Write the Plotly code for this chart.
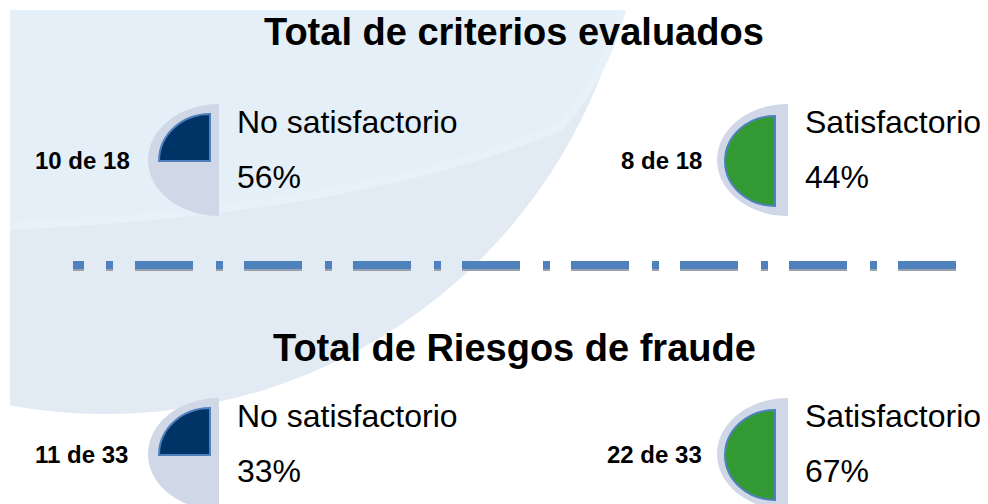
import plotly.graph_objects as go

# ---------------- data ----------------
section_titles = ["Total de criterios evaluados", "Total de Riesgos de fraude"]
status_labels = ["No satisfactorio", "Satisfactorio"]
criterios_counts = [10, 8]
criterios_total = 18
riesgos_counts = [11, 22]
riesgos_total = 33

sections = [
    (section_titles[0], criterios_counts, criterios_total),
    (section_titles[1], riesgos_counts, riesgos_total),
]

# ---------------- layout (screen-pixel space; page body has an 8px margin) ----------------
OFF = 8
W, H = 988, 504
row_y = [160, 454]          # gauge centre rows
title_y = [32, 348]
col_gauge_x = [219, 788]    # flat edge of grey half-ellipse
label_x = [235, 803]
count_x = [33, 704]
count_anchor = ["left", "right"]
K = 0.5523

FONT = "Liberation Sans, Arial"

GREY = "#d0d8e8"
DARK = "#003366"
GREEN = "#339933"
EDGE = "#4f81bd"


def half_left(cx, cy, rx, ry):
    return (f"M {cx},{cy-ry} C {cx-K*rx},{cy-ry} {cx-rx},{cy-K*ry} {cx-rx},{cy} "
            f"C {cx-rx},{cy+K*ry} {cx-K*rx},{cy+ry} {cx},{cy+ry} Z")


def quarter_ul(cx, cy, rx, ry):
    return (f"M {cx},{cy} L {cx},{cy-ry} "
            f"C {cx-K*rx},{cy-ry} {cx-rx},{cy-K*ry} {cx-rx},{cy} Z")


shapes = []
# background decoration
shapes.append(dict(type="circle", xref="x", yref="y", x0=-425, x1=637, y0=-648, y1=414,
                   fillcolor="#e2eaf4", line=dict(width=0), layer="below"))
shapes.append(dict(type="path", xref="x", yref="y",
                   path="M 10,10 L 622,10 Q 604,75 560,125 Q 360,208 10,224 Z",
                   fillcolor="#e4eff8", line=dict(width=0), layer="below"))
shapes.append(dict(type="path", xref="x", yref="y",
                   path="M 10,226 Q 360,210 560,127 Q 604,77 622,10",
                   line=dict(color="#e7f1f9", width=8), layer="below"))
shapes.append(dict(type="rect", xref="x", yref="y", x0=0, x1=10, y0=0, y1=H,
                   fillcolor="white", line=dict(width=0), layer="below"))
shapes.append(dict(type="rect", xref="x", yref="y", x0=0, x1=W, y0=0, y1=10,
                   fillcolor="white", line=dict(width=0), layer="below"))

# separator dash-dot line
dash = ["11px", "22px", "7px", "22px"] + ["58px", "23px", "7px", "21px"] * 9
dash_str = ",".join(dash)
shapes.append(dict(type="line", xref="x", yref="y", x0=73, x1=960, y0=267, y1=267,
                   line=dict(color="#9aa3ad", width=8, dash=dash_str), layer="below"))
shapes.append(dict(type="line", xref="x", yref="y", x0=73, x1=960, y0=265, y1=265,
                   line=dict(color="#4f81bd", width=8, dash=dash_str), layer="below"))

annotations = []
for r, (title, counts, total) in enumerate(sections):
    cy = row_y[r]
    annotations.append(dict(x=514, y=title_y[r], xref="x", yref="y", text=f"<b>{title}</b>",
                            showarrow=False, xanchor="center", yanchor="middle",
                            font=dict(family=FONT, size=38, color="black")))
    for c, (status, count) in enumerate(zip(status_labels, counts)):
        gx = col_gauge_x[c]
        # grey half-ellipse
        shapes.append(dict(type="path", xref="x", yref="y", path=half_left(gx, cy, 71, 56),
                           fillcolor=GREY, line=dict(width=0)))
        if c == 0:
            shapes.append(dict(type="path", xref="x", yref="y",
                               path=quarter_ul(gx - 9, cy + 1, 51, 47),
                               fillcolor=DARK, line=dict(color=EDGE, width=2)))
        else:
            shapes.append(dict(type="path", xref="x", yref="y",
                               path=half_left(gx - 13, cy + 1, 50, 45),
                               fillcolor=GREEN, line=dict(color=EDGE, width=2)))
        pct = round(100 * count / total)
        annotations.append(dict(x=label_x[c], y=cy - 38, xref="x", yref="y", text=status,
                                showarrow=False, xanchor="left", yanchor="middle",
                                font=dict(family=FONT, size=32, color="black")))
        annotations.append(dict(x=label_x[c], y=cy + 17, xref="x", yref="y", text=f"{pct}%",
                                showarrow=False, xanchor="left", yanchor="middle",
                                font=dict(family=FONT, size=32, color="black")))
        annotations.append(dict(x=count_x[c], y=cy, xref="x", yref="y",
                                text=f"<b>{count} de {total}</b>",
                                showarrow=False, xanchor=count_anchor[c], yanchor="middle",
                                font=dict(family=FONT, size=24, color="black")))

fig = go.Figure()
fig.add_trace(go.Scatter(x=[100], y=[100], mode="markers", marker=dict(opacity=0),
                         hoverinfo="skip", showlegend=False))
fig.update_layout(
    width=W - OFF, height=H - OFF, margin=dict(l=0, r=0, t=0, b=0),
    paper_bgcolor="white", plot_bgcolor="rgba(0,0,0,0)",
    xaxis=dict(range=[OFF, W], visible=False, fixedrange=True),
    yaxis=dict(range=[H, OFF], visible=False, fixedrange=True),
    shapes=shapes, annotations=annotations, showlegend=False,
)
fig.write_html("out.html")
